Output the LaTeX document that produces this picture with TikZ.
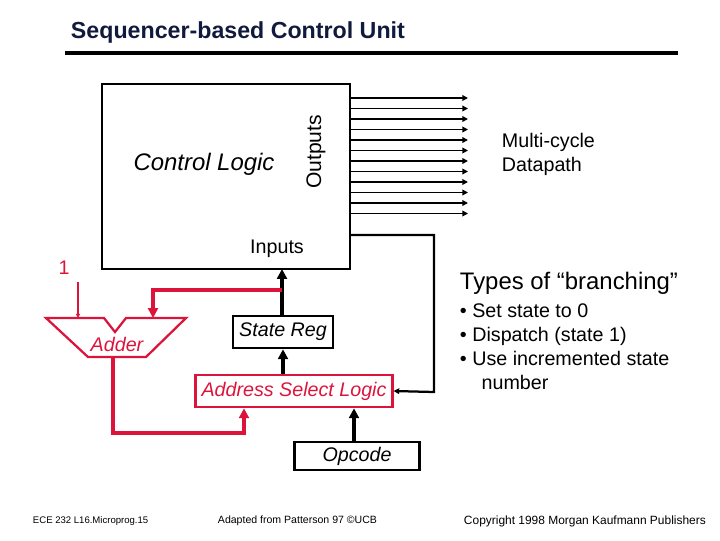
\documentclass[tikz,border=0pt]{standalone}
\usepackage{fontspec}
\setmainfont{Liberation Sans}
\usetikzlibrary{positioning,arrows.meta}
\definecolor{adderred}{RGB}{220,20,60}
\definecolor{titlenavy}{RGB}{16,26,60}

\begin{document}
\begin{tikzpicture}[x=0.025cm,y=-0.025cm,
  box/.style = {draw=black, line width=1.6pt, inner sep=0pt},
  wire/.style = {line width=2.4pt, -{Triangle[length=7pt,width=7pt]}},
  redwire/.style = {draw=adderred, line width=2.4pt, -{Triangle[length=7pt,width=7pt]}}]
\useasboundingbox (0,0) rectangle (720,540);
\node[anchor=west,text=titlenavy,font=\fontsize{16.5}{20}\selectfont\bfseries] (title) at (66,32) {Sequencer-based Control Unit};
\draw[line width=2.6pt] (65,53) -- (678,53);
% control logic block
\draw[box] (102,84) rectangle (350,269);
\node[font=\fontsize{17}{19}\selectfont\itshape] (ctrl) at (204,164) {Control Logic};
\node[rotate=90,font=\fontsize{15}{17}\selectfont] (outs) at (316,152) {Outputs};
\node[font=\fontsize{14}{16}\selectfont] (inputs) at (277,249) {Inputs};
\foreach \i in {0,...,11}
    \draw[line width=1.4pt,-{Triangle[length=4pt,width=4pt]}] (350,98+10.5*\i) -- (468,98+10.5*\i);
\node[align=left,anchor=west,font=\fontsize{14}{17}\selectfont] (dp) at (497,154) {Multi-cycle\\Datapath};
% boxes
\node[box,minimum width=71pt,minimum height=23pt,font=\fontsize{14}{16}\selectfont\itshape] (sreg) at (283,332) {State Reg};
\node[box,draw=adderred,text=adderred,minimum width=140pt,minimum height=23pt,font=\fontsize{14}{16}\selectfont\itshape] (asl) at (294,391) {Address Select Logic};
\node[box,minimum width=89pt,minimum height=20pt,font=\fontsize{14}{16}\selectfont\itshape] (opc) at (357,456) {Opcode};
\coordinate (cin) at (282,269);
\coordinate (opx) at (354,0);
\coordinate (adx) at (244,0);
% adder
\draw[adderred,line width=1.6pt] (46,318) -- (104,318) -- (115,332) -- (126,318) -- (186,318) -- (146,357) -- (88,357) -- cycle;
\node[text=adderred,font=\fontsize{14}{16}\selectfont\itshape] (adder) at (117,344) {Adder};
\node[text=adderred,font=\fontsize{14}{16}\selectfont] (one) at (64,268) {1};
\draw[adderred,line width=1pt,-{Triangle[length=3pt,width=3pt]}] (78,282) -- (78,318);
% connectors
\draw[wire] (sreg.north -| cin) -- (cin);
\draw[wire] (asl.north -| sreg) -- (sreg.south);
\draw[wire] (opc.north -| opx) -- (asl.south -| opx);
\draw[redwire] (282,290) -- (153,290) -- (153,318);
\draw[redwire] (113,357) -- (113,433) -- (244,433) -- (asl.south -| adx);
\draw[line width=1.6pt,-{Triangle[length=4pt,width=4pt]}] (350,235) -- (434,235) -- (434,392) -- (asl.east);
% types of branching
\node[anchor=west,font=\fontsize{17}{20}\selectfont] (types) at (455,283) {Types of “branching”};
\node[anchor=north west,align=left,font=\fontsize{14}{17}\selectfont] (list) at (455,299)
  {• Set state to 0\\• Dispatch (state 1)\\• Use incremented state\\\hspace{1.1em}number};
% footer
\node[anchor=west,font=\fontsize{6.8}{8}\selectfont] (f1) at (28,521) {ECE 232  L16.Microprog.15};
\node[anchor=west,font=\fontsize{7.5}{9}\selectfont] (f2) at (213,521) {Adapted from Patterson 97 ©UCB};
\node[anchor=west,font=\fontsize{8.5}{10}\selectfont] (f3) at (459,521) {Copyright 1998 Morgan Kaufmann Publishers};
\end{tikzpicture}
\end{document}
